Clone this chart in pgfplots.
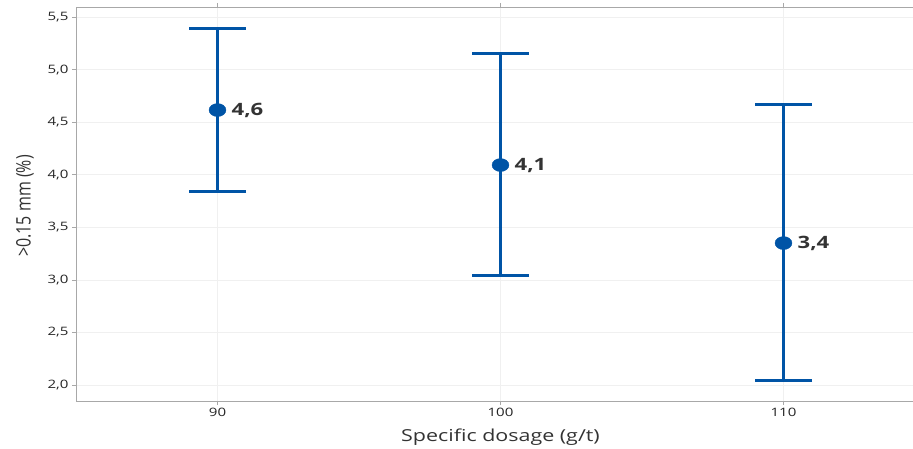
\documentclass[border=0pt]{standalone}
\usepackage{pgfplots}
\pgfplotsset{compat=1.18}
\usepackage{pgfplotstable}
\usepackage{fontspec}
\setmainfont{Open Sans}
\newfontfamily\widefont[FakeStretch=1.3]{Open Sans}
\newfontfamily\narrowfont[FakeStretch=0.8]{Open Sans}
\definecolor{barblue}{HTML}{0054A6}
\definecolor{labgray}{HTML}{333333}
\definecolor{axgray}{HTML}{A8A8A8}
\pgfplotstableread{
x    y     ep     em
90   4.615 0.780  0.771
100  4.092 1.056  1.047
110  3.350 1.313  1.304
}\datatable
\begin{document}
\begin{tikzpicture}
\path[use as bounding box] (0,0) rectangle (913pt,448pt);
\begin{axis}[
  at={(76pt,47pt)}, anchor=south west,
  scale only axis, width=849pt, height=394pt,
  xmin=85, xmax=115, ymin=1.848, ymax=5.595,
  xtick={90,100,110}, ytick={2,2.5,...,5.5},
  /pgf/number format/assume math mode=true,
  yticklabel style={/pgf/number format/.cd,fixed,fixed zerofill,precision=1,use comma},
  xticklabel style={/pgf/number format/.cd,fixed,precision=0},
  ticklabel style={font=\widefont\fontsize{11.6}{13}\selectfont, text=black!85},
  axis line style={axgray},
  tick style={axgray, line width=0.6pt},
  tick align=outside, major tick length=4pt,
  grid=major, major grid style={color=black!6, line width=0.5pt},
  xlabel={Specific dosage (g/t)},
  ylabel={>0.15 mm (\%)},
  every axis x label/.style={at={(axis description cs:0.5,0)}, anchor=north, yshift=-24pt, font=\widefont\fontsize{16.5}{18}\selectfont, text=labgray},
  every axis y label/.style={at={(axis description cs:-0.060,0.495)}, rotate=90, anchor=center, font=\narrowfont\fontsize{20}{22}\selectfont, text=labgray},
  clip=false,
]
\addplot[
  barblue, only marks, mark=*, mark size=6.5pt,
  mark options={fill=barblue, draw=barblue, xscale=1.3},
  error bars/.cd, y dir=both, y explicit,
  error bar style={line width=3pt, barblue},
  error mark options={rotate=90, mark size=28.5pt, line width=3pt, barblue},
] table[x=x, y=y, y error plus=ep, y error minus=em] {\datatable};
\addplot[
  only marks, mark=none, draw=none,
  point meta=y,
  nodes near coords={\pgfmathprintnumber[fixed,precision=1,use comma]{\pgfplotspointmeta}},
  every node near coord/.style={anchor=west, inner sep=0pt, xshift=14pt, font=\widefont\bfseries\fontsize{17}{19}\selectfont, text=labgray},
] table[x=x, y=y] {\datatable};
\end{axis}
\end{tikzpicture}
\end{document}
